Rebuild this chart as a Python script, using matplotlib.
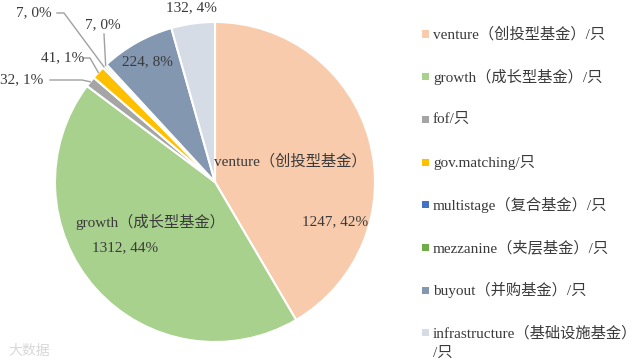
import numpy as np
import matplotlib
matplotlib.use("Agg")
import matplotlib.pyplot as plt
from matplotlib.patches import Rectangle

categories = ["venture（创投型基金）/只", "growth（成长型基金）/只", "fof/只", "gov.matching/只",
              "multistage（复合基金）/只", "mezzanine（夹层基金）/只", "buyout（并购基金）/只",
              "infrastructure（基础设施基金）\n/只"]
values = [1247, 1312, 32, 41, 7, 7, 224, 132]
percent_labels = ["42%", "44%", "1%", "1%", "0%", "0%", "8%", "4%"]
colors = ["#F8CBAD", "#A9D18E", "#A5A5A5", "#FFC000", "#4472C4", "#70AD47", "#8497B0", "#D6DCE5"]

FONT = ["Liberation Serif", "Noto Sans CJK SC"]
plt.rcParams['font.family'] = FONT
TXT = "#3A3A3A"

W, H = 640, 364
fig = plt.figure(figsize=(W / 100, H / 100), dpi=100)
cx, cy, r = 215, 182, 160
ax = fig.add_axes([(cx - r) / W, (H - cy - r) / H, 2 * r / W, 2 * r / H])
wedges, _ = ax.pie(values, colors=colors, startangle=90, counterclock=False,
                   wedgeprops=dict(edgecolor="white", linewidth=1.5))
ax.set_xlim(-1, 1)
ax.set_ylim(-1, 1)
ax.set_aspect("equal")
ax.axis("off")

def px(x, y):
    return ((x - cx) / r, (cy - y) / r)

def edge_point(i, rad=1.0):
    w = wedges[i]
    ang = np.deg2rad((w.theta1 + w.theta2) / 2)
    return (rad * np.cos(ang), rad * np.sin(ang))

labels = [f"{v}, {p}" for v, p in zip(values, percent_labels)]
fs = 11
# inside labels
ax.text(*px(290, 161), categories[0].split("/")[0], fontsize=fs, color=TXT, ha="center", va="center")
ax.text(*px(335, 222), labels[0], fontsize=fs, color=TXT, ha="center", va="center")
ax.text(*px(150, 222), categories[1].split("/")[0], fontsize=fs, color=TXT, ha="center", va="center")
ax.text(*px(125, 248), labels[1], fontsize=fs, color=TXT, ha="center", va="center")
ax.text(*px(147, 62), labels[6], fontsize=fs, color=TXT, ha="center", va="center")
ax.text(*px(191, 8), labels[7], fontsize=fs, color=TXT, ha="center", va="center")

lc = "#A0A0A0"
# fof
ty = px(0, 80)[1]
ax.text(*px(22, 80), labels[2], fontsize=fs, color=TXT, ha="center", va="center")
e = edge_point(2)
ax.plot([px(50, 80)[0], px(82, 80)[0], e[0]], [ty, ty, e[1]], color=lc, lw=1, clip_on=False)
# gov.matching
ty = px(0, 58)[1]
ax.text(*px(63, 58), labels[3], fontsize=fs, color=TXT, ha="center", va="center")
e = edge_point(3)
ax.plot([px(84, 58)[0], px(90, 58)[0], e[0]], [ty, ty, e[1]], color=lc, lw=1, clip_on=False)
# multistage
ty = px(0, 13)[1]
ax.text(*px(34, 13), labels[4], fontsize=fs, color=TXT, ha="center", va="center")
e = edge_point(4)
ax.plot([px(57, 13)[0], px(64, 13)[0], e[0]], [ty, ty, e[1]], color=lc, lw=1, clip_on=False)
# mezzanine
ax.text(*px(103, 25), labels[5], fontsize=fs, color=TXT, ha="center", va="center")
e = edge_point(5)
ax.plot([px(104, 34)[0], e[0]], [px(0, 34)[1], e[1]], color=lc, lw=1, clip_on=False)

# legend (manual)
y0, dy = 34, 42.7
for i, (name, c) in enumerate(zip(categories, colors)):
    y = y0 + i * dy
    fig.patches.append(Rectangle((422 / W, (H - y - 3.5) / H), 7 / W, 7 / H,
                                 transform=fig.transFigure, facecolor=c, edgecolor="none"))
    lines = name.split("\n")
    for k, line in enumerate(lines):
        fig.text(433 / W, (H - y - k * 20) / H, line, fontsize=fs, color=TXT,
                 ha="left", va="center")

# faint watermark
fig.text(8 / W, (H - 352) / H, "大数据", fontsize=10, color="#D8D8D8", ha="left", va="center")

fig.savefig("out.png", dpi=100, facecolor="white")
